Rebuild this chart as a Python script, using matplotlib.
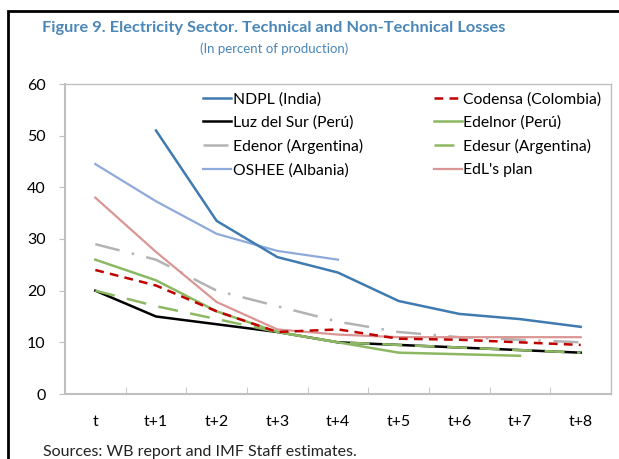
import matplotlib
matplotlib.use("Agg")
import matplotlib.pyplot as plt
import numpy as np
from matplotlib.patches import Rectangle

plt.rcParams['font.family'] = ['Lato', 'DejaVu Sans']

# data (percent of production)
periods = ['t', 't+1', 't+2', 't+3', 't+4', 't+5', 't+6', 't+7', 't+8']
nan = np.nan
ndpl = [nan, 51, 33.5, 26.5, 23.5, 18, 15.5, 14.5, 13]
codensa = [24, 21, 16, 12, 12.5, 10.7, 10.5, 10, 9.5]
luz = [20, 15, 13.5, 12, 10, 9.5, 9, 8.5, 8]
edelnor = [26, 22, 16, 12, 10, 8, 7.7, 7.4, nan]
edenor = [29, 26, 20, 17, 14, 12, 11, 10.5, 10]
edesur = [20, 17, 14.5, 12, 10, 9.5, 9, 8.5, 8]
oshee = [44.5, 37.3, 31, 27.7, 26, nan, nan, nan, nan]
edl_plan = [38, 27.5, 17.8, 12.5, 11.5, 11, 11, 11, 11]

fig = plt.figure(figsize=(6.19, 4.59), dpi=100)
# outer frame of the figure box (cropped on right / bottom)
fig.patches.append(Rectangle((8 / 619, -0.1), 1.2, 1 - 11 / 459 + 0.1,
                             transform=fig.transFigure, fill=False,
                             edgecolor='black', linewidth=2))

ax = fig.add_axes([65 / 619, 1 - 394 / 459, 546 / 619, 310 / 459])
x = np.arange(len(periods))

h_luz, = ax.plot(x, luz, color='black', lw=1.8, label='Luz del Sur (Perú)')
h_edenor, = ax.plot(x, edenor, color='#b3b3b3', lw=1.8, dashes=(10, 5, 1, 5),
                    label='Edenor (Argentina)')
h_edl, = ax.plot(x, edl_plan, color='#d99694', lw=1.6, label="EdL's plan")
h_oshee, = ax.plot(x, oshee, color='#8eaadb', lw=1.6, label='OSHEE (Albania)')
h_ndpl, = ax.plot(x, ndpl, color='#3f7ab0', lw=1.8, label='NDPL (India)')
h_edelnor, = ax.plot(x, edelnor, color='#8db863', lw=1.8, label='Edelnor (Perú)')
h_edesur, = ax.plot(x, edesur, color='#8db863', lw=1.8, dashes=(8, 5),
                    label='Edesur (Argentina)')
h_cod, = ax.plot(x, codensa, color='#c00000', lw=1.8, dashes=(3.5, 2.5),
                 label='Codensa (Colombia)')

ax.set_xlim(-0.5, 8.5)
ax.set_ylim(0, 60)
ax.set_yticks(range(0, 61, 10))
ax.set_xticks(x)
ax.set_xticklabels(periods)
ax.set_xticks(np.arange(0.5, 8.5, 1), minor=True)
ax.tick_params(axis='x', which='major', length=0, pad=15, labelsize=11.5)
ax.tick_params(axis='x', which='minor', direction='in', length=5, color='#bfbfbf')
ax.tick_params(axis='y', length=4, color='#bfbfbf', pad=10, labelsize=11.5)
for s in ax.spines.values():
    s.set_color('#bfbfbf')
    s.set_linewidth(1)
ax.spines['left'].set_linewidth(1.5)
ax.spines['bottom'].set_linewidth(1.5)

handles = [h_ndpl, h_luz, h_edenor, h_oshee, h_cod, h_edelnor, h_edesur, h_edl]
fig.legend(handles=handles, labels=[h.get_label() for h in handles],
           loc='upper left', bbox_to_anchor=(203 / 619, 1 - 92 / 459),
           ncol=2, frameon=False, fontsize=11.3, handlelength=1.8,
           handletextpad=0.1, columnspacing=4.5, labelspacing=0.58,
           borderpad=0, borderaxespad=0)

fig.text(274 / 619, 1 - 28 / 459,
         'Figure 9. Electricity Sector. Technical and Non-Technical Losses',
         ha='center', va='center', fontsize=11.8, fontweight='bold',
         color='#4a86b8')
fig.text(274 / 619, 1 - 49 / 459, '(In percent of production)',
         ha='center', va='center', fontsize=9.5, color='#4a86b8')
fig.text(43 / 619, 1 - 452 / 459, 'Sources: WB report and IMF Staff estimates.',
         ha='left', va='center', fontsize=11.5, color='#222222')

fig.savefig('out.png', dpi=100)
